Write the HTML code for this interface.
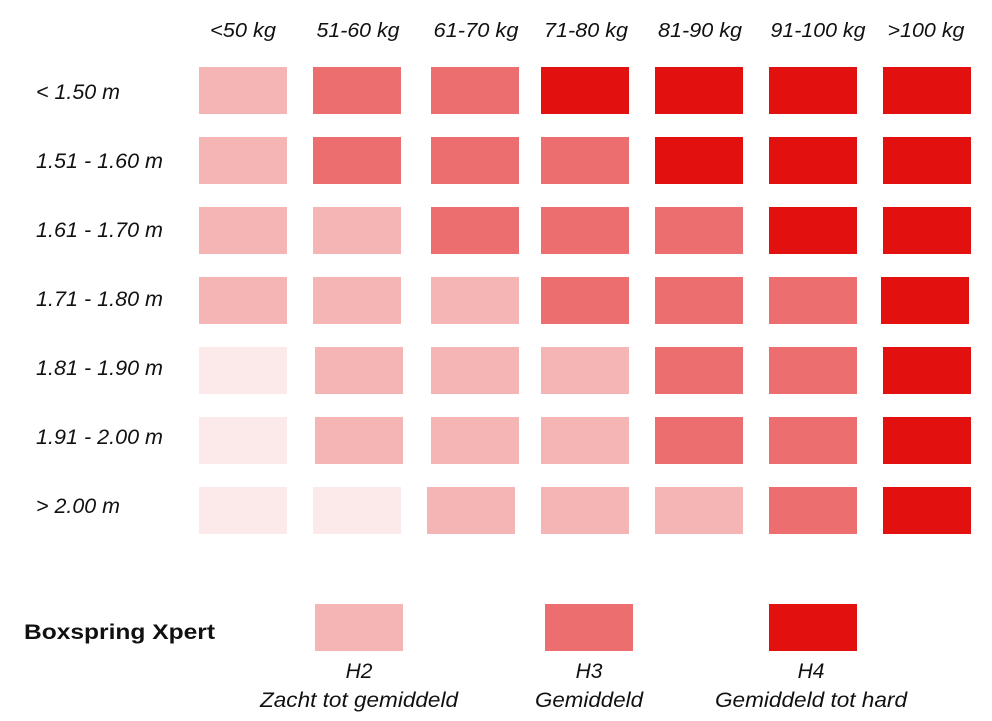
<!DOCTYPE html>
<html><head><meta charset="utf-8"><style>
html,body{margin:0;padding:0;background:#fff;}
svg{display:block}
text{font-family:"Liberation Sans",sans-serif;font-style:italic;fill:#111;}
</style></head><body>
<svg width="992" height="721" viewBox="0 0 992 721" xmlns="http://www.w3.org/2000/svg">
<g font-size="20">
<text x="243" y="37" text-anchor="middle" textLength="66" lengthAdjust="spacingAndGlyphs">&lt;50 kg</text>
<text x="358" y="37" text-anchor="middle" textLength="83" lengthAdjust="spacingAndGlyphs">51-60 kg</text>
<text x="476" y="37" text-anchor="middle" textLength="85" lengthAdjust="spacingAndGlyphs">61-70 kg</text>
<text x="586" y="37" text-anchor="middle" textLength="84" lengthAdjust="spacingAndGlyphs">71-80 kg</text>
<text x="700" y="37" text-anchor="middle" textLength="84" lengthAdjust="spacingAndGlyphs">81-90 kg</text>
<text x="818" y="37" text-anchor="middle" textLength="95" lengthAdjust="spacingAndGlyphs">91-100 kg</text>
<text x="926" y="37" text-anchor="middle" textLength="77" lengthAdjust="spacingAndGlyphs">&gt;100 kg</text>
</g>
<g font-size="21">
<text x="36" y="99" textLength="84" lengthAdjust="spacingAndGlyphs">&lt; 1.50 m</text>
<text x="36" y="168" textLength="127" lengthAdjust="spacingAndGlyphs">1.51 -  1.60 m</text>
<text x="36" y="237" textLength="127" lengthAdjust="spacingAndGlyphs">1.61 -  1.70 m</text>
<text x="36" y="306" textLength="127" lengthAdjust="spacingAndGlyphs">1.71 -  1.80 m</text>
<text x="36" y="375" textLength="127" lengthAdjust="spacingAndGlyphs">1.81 -  1.90 m</text>
<text x="36" y="444" textLength="127" lengthAdjust="spacingAndGlyphs">1.91 -  2.00 m</text>
<text x="36" y="513" textLength="84" lengthAdjust="spacingAndGlyphs">&gt; 2.00 m</text>
</g>
<text x="24" y="639" font-weight="bold" font-size="21" style="font-style:normal" fill="#222" textLength="191" lengthAdjust="spacingAndGlyphs">Boxspring Xpert</text>
<rect x="315" y="604" width="88" height="47" fill="#f5b5b5"/>
<rect x="545" y="604" width="88" height="47" fill="#ed6e6e"/>
<rect x="769" y="604" width="88" height="47" fill="#e2110f"/>
<g font-size="21" text-anchor="middle">
<text x="359" y="678">H2</text>
<text x="359" y="707" textLength="198" lengthAdjust="spacingAndGlyphs">Zacht tot gemiddeld</text>
<text x="589" y="678">H3</text>
<text x="589" y="707" textLength="108" lengthAdjust="spacingAndGlyphs">Gemiddeld</text>
<text x="811" y="678">H4</text>
<text x="811" y="707" textLength="192" lengthAdjust="spacingAndGlyphs">Gemiddeld tot hard</text>
</g>
<g>
<rect x="199" y="67" width="88" height="47" fill="#f5b5b5"/><rect x="313" y="67" width="88" height="47" fill="#ed6e6e"/><rect x="431" y="67" width="88" height="47" fill="#ed6e6e"/><rect x="541" y="67" width="88" height="47" fill="#e2110f"/><rect x="655" y="67" width="88" height="47" fill="#e2110f"/><rect x="769" y="67" width="88" height="47" fill="#e2110f"/><rect x="883" y="67" width="88" height="47" fill="#e2110f"/>
<rect x="199" y="137" width="88" height="47" fill="#f5b5b5"/><rect x="313" y="137" width="88" height="47" fill="#ed6e6e"/><rect x="431" y="137" width="88" height="47" fill="#ed6e6e"/><rect x="541" y="137" width="88" height="47" fill="#ed6e6e"/><rect x="655" y="137" width="88" height="47" fill="#e2110f"/><rect x="769" y="137" width="88" height="47" fill="#e2110f"/><rect x="883" y="137" width="88" height="47" fill="#e2110f"/>
<rect x="199" y="207" width="88" height="47" fill="#f5b5b5"/><rect x="313" y="207" width="88" height="47" fill="#f5b5b5"/><rect x="431" y="207" width="88" height="47" fill="#ed6e6e"/><rect x="541" y="207" width="88" height="47" fill="#ed6e6e"/><rect x="655" y="207" width="88" height="47" fill="#ed6e6e"/><rect x="769" y="207" width="88" height="47" fill="#e2110f"/><rect x="883" y="207" width="88" height="47" fill="#e2110f"/>
<rect x="199" y="277" width="88" height="47" fill="#f5b5b5"/><rect x="313" y="277" width="88" height="47" fill="#f5b5b5"/><rect x="431" y="277" width="88" height="47" fill="#f5b5b5"/><rect x="541" y="277" width="88" height="47" fill="#ed6e6e"/><rect x="655" y="277" width="88" height="47" fill="#ed6e6e"/><rect x="769" y="277" width="88" height="47" fill="#ed6e6e"/><rect x="881" y="277" width="88" height="47" fill="#e2110f"/>
<rect x="199" y="347" width="88" height="47" fill="#fce9e9"/><rect x="315" y="347" width="88" height="47" fill="#f5b5b5"/><rect x="431" y="347" width="88" height="47" fill="#f5b5b5"/><rect x="541" y="347" width="88" height="47" fill="#f5b5b5"/><rect x="655" y="347" width="88" height="47" fill="#ed6e6e"/><rect x="769" y="347" width="88" height="47" fill="#ed6e6e"/><rect x="883" y="347" width="88" height="47" fill="#e2110f"/>
<rect x="199" y="417" width="88" height="47" fill="#fce9e9"/><rect x="315" y="417" width="88" height="47" fill="#f5b5b5"/><rect x="431" y="417" width="88" height="47" fill="#f5b5b5"/><rect x="541" y="417" width="88" height="47" fill="#f5b5b5"/><rect x="655" y="417" width="88" height="47" fill="#ed6e6e"/><rect x="769" y="417" width="88" height="47" fill="#ed6e6e"/><rect x="883" y="417" width="88" height="47" fill="#e2110f"/>
<rect x="199" y="487" width="88" height="47" fill="#fce9e9"/><rect x="313" y="487" width="88" height="47" fill="#fce9e9"/><rect x="427" y="487" width="88" height="47" fill="#f5b5b5"/><rect x="541" y="487" width="88" height="47" fill="#f5b5b5"/><rect x="655" y="487" width="88" height="47" fill="#f5b5b5"/><rect x="769" y="487" width="88" height="47" fill="#ed6e6e"/><rect x="883" y="487" width="88" height="47" fill="#e2110f"/>
</g>
</svg>
</body></html>
